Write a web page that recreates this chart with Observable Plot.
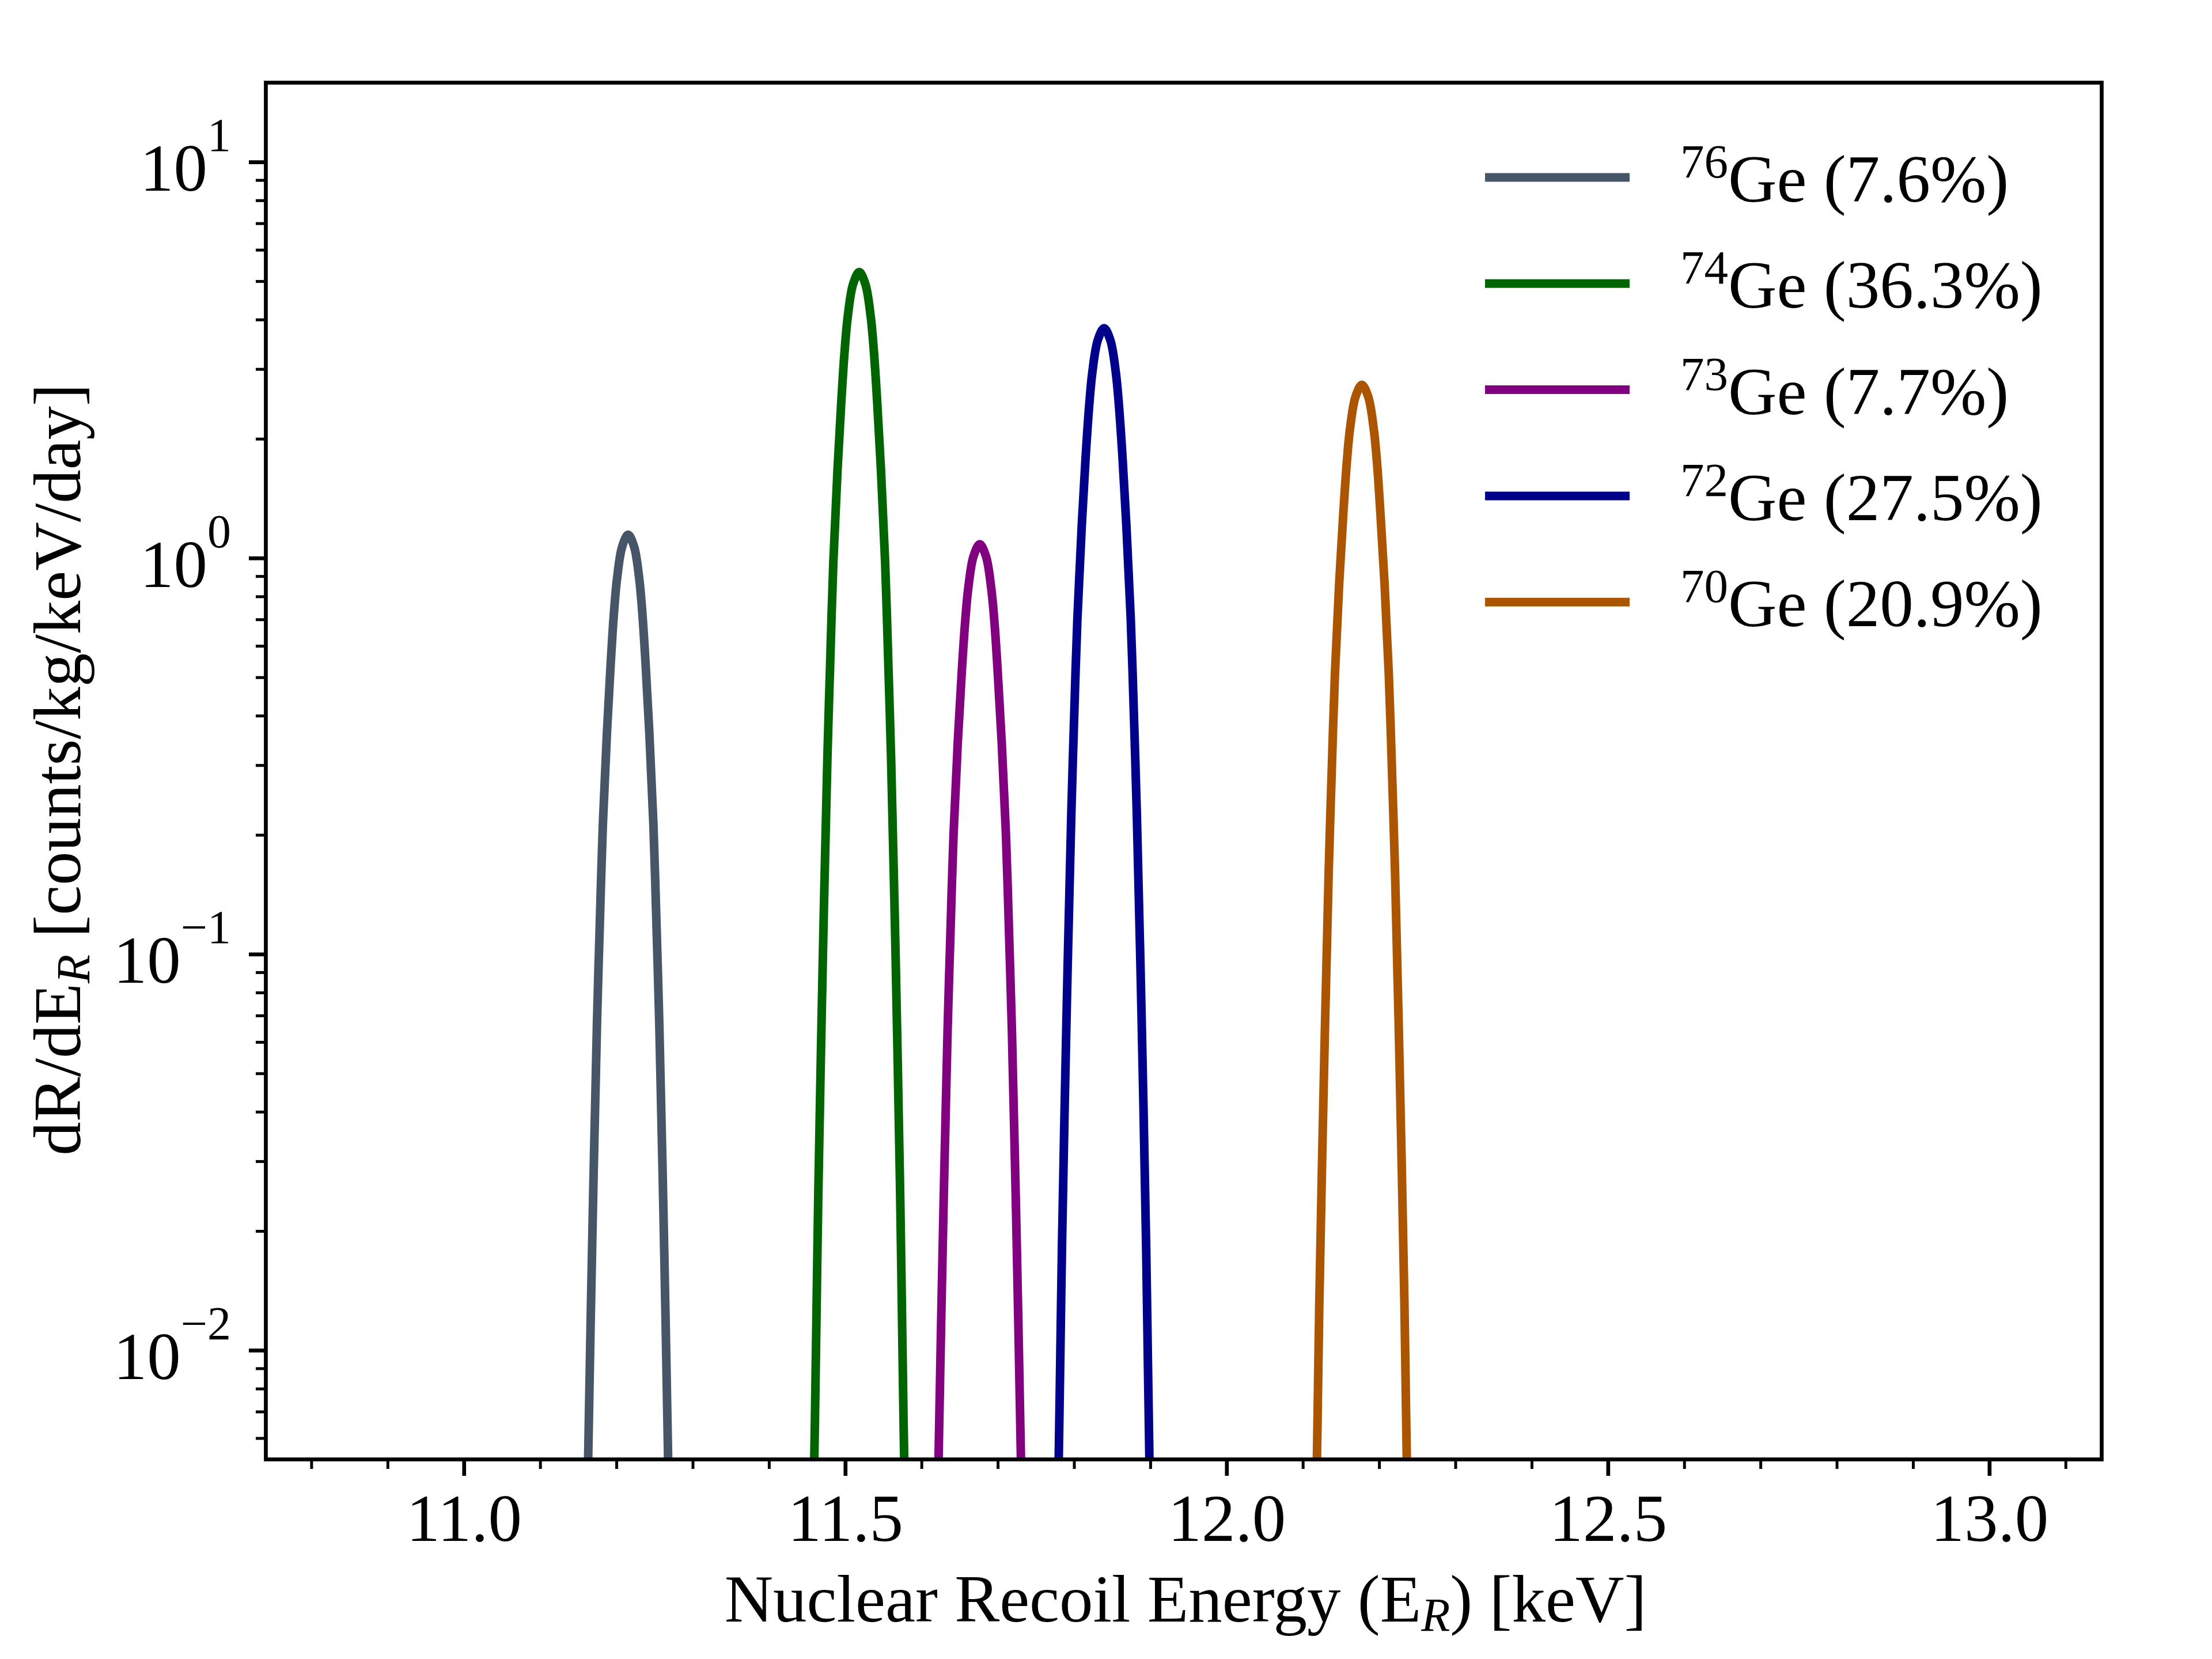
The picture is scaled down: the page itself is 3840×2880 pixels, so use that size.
<!DOCTYPE html>
<html>
<head>
<meta charset="utf-8">
<script src="https://cdn.jsdelivr.net/npm/d3@7"></script>
<script src="https://cdn.jsdelivr.net/npm/@observablehq/plot@0.6"></script>
<style>
html, body { margin: 0; padding: 0; background: #ffffff; }
svg { display: block; }
</style>
</head>
<body>
<div id="chart"></div>
<script>
// ---------- data ----------
const isotopes = ["76Ge", "74Ge", "73Ge", "72Ge", "70Ge"];
const massNumbers = ["76", "74", "73", "72", "70"];
const abundances = ["7.6%", "36.3%", "7.7%", "27.5%", "20.9%"];
const colors = ["#475569", "#006400", "#800080", "#00008b", "#ab5500"];

const ge76X = [11.1606, 11.1627, 11.1685, 11.1742, 11.1776, 11.1819, 11.1872, 11.1920, 11.1963, 11.2005, 11.2072, 11.215, 11.2228, 11.2295, 11.2337, 11.2380, 11.2428, 11.2481, 11.2524, 11.2558, 11.2615, 11.2673, 11.2694];
const ge76Y = [0.00288, 0.00549, 0.02136, 0.06754, 0.1147, 0.2136, 0.3627, 0.5365, 0.7237, 0.8903, 1.0705, 1.147, 1.0705, 0.8903, 0.7237, 0.5365, 0.3627, 0.2136, 0.1147, 0.06754, 0.02136, 0.00549, 0.00288];

const ge74X = [11.4581, 11.4599, 11.4622, 11.4644, 11.4703, 11.4762, 11.4797, 11.4841, 11.4895, 11.4944, 11.4988, 11.5031, 11.5100, 11.518, 11.5260, 11.5329, 11.5372, 11.5416, 11.5465, 11.5519, 11.5563, 11.5598, 11.5657, 11.5716, 11.5738, 11.5761, 11.5779];
const ge74Y = [0.004192, 0.006648, 0.01326, 0.02527, 0.09831, 0.3109, 0.528, 0.9831, 1.670, 2.469, 3.332, 4.098, 4.928, 5.28, 4.928, 4.098, 3.332, 2.469, 1.670, 0.9831, 0.528, 0.3109, 0.09831, 0.02527, 0.01326, 0.006648, 0.004192];

const ge73X = [11.6198, 11.6219, 11.6279, 11.6338, 11.6373, 11.6417, 11.6472, 11.6522, 11.6567, 11.6610, 11.6679, 11.676, 11.6841, 11.6910, 11.6954, 11.6998, 11.7048, 11.7103, 11.7147, 11.7182, 11.7241, 11.7301, 11.7323];
const ge73Y = [0.002726, 0.005193, 0.02020, 0.06388, 0.1085, 0.2020, 0.3431, 0.5075, 0.6846, 0.8422, 1.0126, 1.085, 1.0126, 0.8422, 0.6846, 0.5075, 0.3431, 0.2020, 0.1085, 0.06388, 0.02020, 0.005193, 0.002726];

const ge72X = [11.7792, 11.7816, 11.7838, 11.7899, 11.7960, 11.7995, 11.8041, 11.8097, 11.8147, 11.8193, 11.8237, 11.8308, 11.839, 11.8472, 11.8543, 11.8587, 11.8633, 11.8683, 11.8739, 11.8785, 11.8820, 11.8881, 11.8942, 11.8964, 11.8988];
const ge72Y = [0.004797, 0.00957, 0.01823, 0.07094, 0.2243, 0.381, 0.7094, 1.205, 1.782, 2.404, 2.957, 3.556, 3.81, 3.556, 2.957, 2.404, 1.782, 1.205, 0.7094, 0.381, 0.2243, 0.07094, 0.01823, 0.00957, 0.004797];

const ge70X = [12.1165, 12.1190, 12.1212, 12.1274, 12.1335, 12.1371, 12.1417, 12.1473, 12.1525, 12.1571, 12.1615, 12.1687, 12.177, 12.1853, 12.1925, 12.1970, 12.2015, 12.2067, 12.2123, 12.2169, 12.2205, 12.2266, 12.2328, 12.2350, 12.2375];
const ge70Y = [0.003452, 0.006888, 0.01312, 0.05106, 0.1614, 0.2742, 0.5106, 0.8670, 1.282, 1.730, 2.128, 2.559, 2.742, 2.559, 2.128, 1.730, 1.282, 0.8670, 0.5106, 0.2742, 0.1614, 0.05106, 0.01312, 0.006888, 0.003452];

const xMajorTicks = [11.0, 11.5, 12.0, 12.5, 13.0];
const xMinorTicks = [10.8, 10.9, 11.1, 11.2, 11.3, 11.4, 11.6, 11.7, 11.8, 11.9, 12.1, 12.2, 12.3, 12.4, 12.6, 12.7, 12.8, 12.9, 13.1];
const yMajorTicks = [0.01, 0.1, 1, 10];
const yExponents = ["\u22122", "\u22121", "0", "1"];
const yMinorTicks = [0.006, 0.007, 0.008, 0.009, 0.02, 0.03, 0.04, 0.05, 0.06, 0.07, 0.08, 0.09, 0.2, 0.3, 0.4, 0.5, 0.6, 0.7, 0.8, 0.9, 2, 3, 4, 5, 6, 7, 8, 9];
const xDomain = [10.74, 13.147];
const yDomain = [0.00531, 15.88];

// ---------- table for the library ----------
const seriesX = [ge76X, ge74X, ge73X, ge72X, ge70X];
const seriesY = [ge76Y, ge74Y, ge73Y, ge72Y, ge70Y];
const rows = isotopes.flatMap((iso, i) => seriesX[i].map((x, j) => ({iso, x, y: seriesY[i][j]})));

// ---------- layout ----------
const FONT = "'Liberation Serif', 'Times New Roman', 'DejaVu Serif', serif";
const W = 3840, H = 2880;
const mL = 461, mR = 192, mT = 143, mB = 347;

const plot = Plot.plot({
  width: W, height: H,
  marginLeft: mL, marginRight: mR, marginTop: mT, marginBottom: mB,
  style: {background: "white", fontFamily: FONT, color: "black", overflow: "visible"},
  x: {domain: xDomain},
  y: {type: "log", domain: yDomain},
  color: {domain: isotopes, range: colors},
  marks: [
    Plot.line(rows, {x: "x", y: "y", z: "iso", stroke: "iso", strokeWidth: 15, curve: "catmull-rom", clip: true}),
    Plot.axisX(xMinorTicks, {tickSize: 17, strokeWidth: 5, tickFormat: () => "", label: null}),
    Plot.axisX(xMajorTicks, {tickSize: 29, strokeWidth: 6.7, tickPadding: 29, fontSize: 117, tickFormat: d => d.toFixed(1), label: null}),
    Plot.axisY(yMinorTicks, {tickSize: 17, strokeWidth: 5, tickFormat: () => "", label: null}),
    Plot.axisY(yMajorTicks, {tickSize: 29, strokeWidth: 6.7, tickFormat: () => "", label: null}),
    Plot.frame({stroke: "black", strokeWidth: 6.7})
  ]
});

document.getElementById("chart").appendChild(plot);
const svg = d3.select(plot);
const yScale = plot.scale("y");

// y tick labels 10^k
yMajorTicks.forEach((v, i) => {
  const py = yScale.apply(v);
  const t = svg.append("text")
    .attr("x", mL - 60).attr("y", py + 50)
    .attr("text-anchor", "end")
    .attr("font-family", FONT).attr("font-size", 117).attr("fill", "black");
  t.append("tspan").text("10");
  t.append("tspan").attr("font-size", 82).attr("dy", -69).text(yExponents[i]);
});

// x axis label
const xl = svg.append("text")
  .attr("x", 2058).attr("y", 2815)
  .attr("text-anchor", "middle")
  .attr("font-family", FONT).attr("font-size", 117).attr("fill", "black");
xl.append("tspan").text("Nuclear Recoil Energy (E");
xl.append("tspan").attr("font-size", 82).attr("font-style", "italic").attr("dy", 16).text("R");
xl.append("tspan").attr("dy", -16).text(") [keV]");

// y axis label
const yl = svg.append("text")
  .attr("transform", "translate(139,1336) rotate(-90)")
  .attr("text-anchor", "middle")
  .attr("font-family", FONT).attr("font-size", 117).attr("fill", "black");
yl.append("tspan").text("dR/dE");
yl.append("tspan").attr("font-size", 82).attr("font-style", "italic").attr("dy", 16).text("R");
yl.append("tspan").attr("dy", -16).text(" [counts/kg/keV/day]");

// legend
const legendY0 = 308, legendStep = 184.3;
isotopes.forEach((iso, i) => {
  const cy = legendY0 + i * legendStep;
  svg.append("line")
    .attr("x1", 2578).attr("x2", 2829).attr("y1", cy).attr("y2", cy)
    .attr("stroke", colors[i]).attr("stroke-width", 15);
  const t = svg.append("text")
    .attr("x", 2917).attr("y", cy + 42)
    .attr("text-anchor", "start")
    .attr("font-family", FONT).attr("font-size", 117).attr("fill", "black");
  t.append("tspan").attr("font-size", 83).attr("dy", -42).text(massNumbers[i]);
  t.append("tspan").attr("dy", 42).text("Ge (" + abundances[i] + ")");
});
</script>
</body>
</html>
